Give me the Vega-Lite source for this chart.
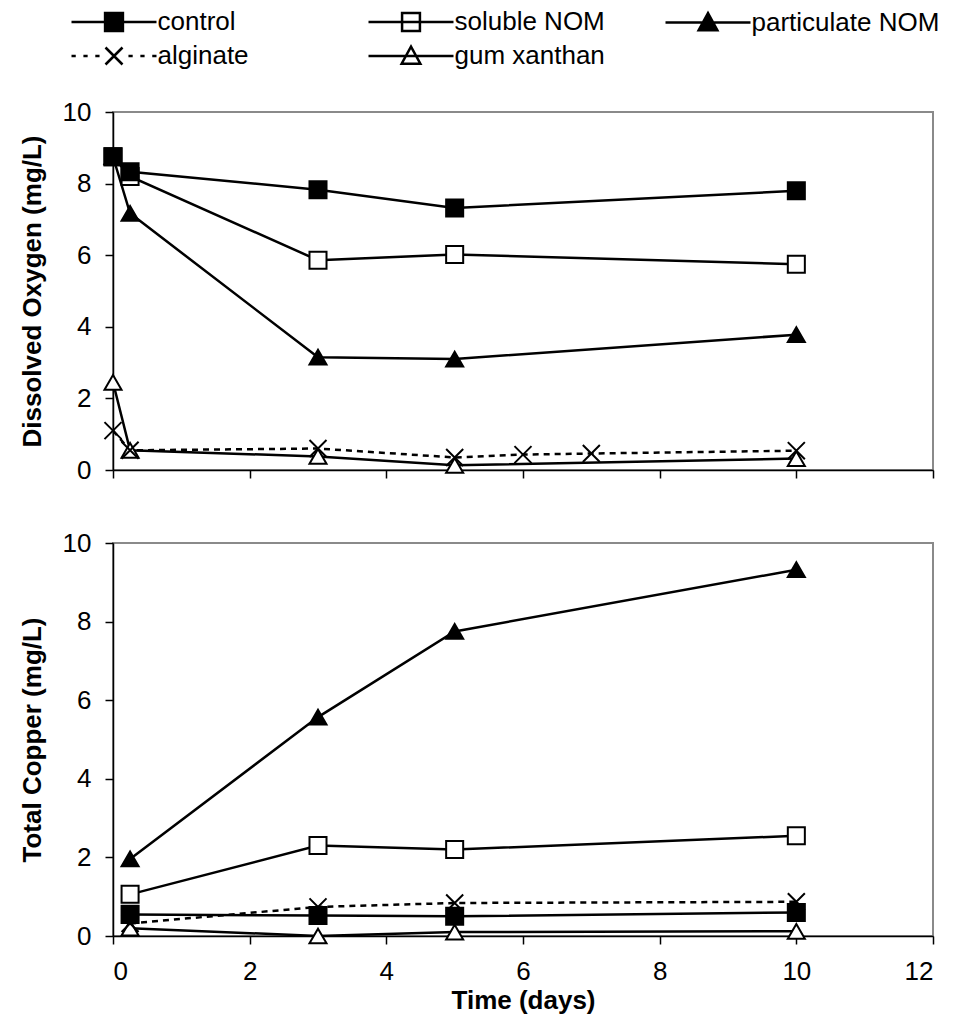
{
  "$schema": "https://vega.github.io/schema/vega-lite/v6.json",
  "background": "white",
  "padding": {"left": 18, "top": 9, "right": 5, "bottom": 4},
  "bounds": "flush",
  "spacing": 73,
  "config": {
    "font": "Liberation Sans",
    "view": {"stroke": "#8a8a8a", "strokeWidth": 2},
    "axis": {
      "grid": false,
      "domainColor": "black",
      "domainWidth": 1.5,
      "tickColor": "black",
      "tickWidth": 1.5,
      "tickSize": 8,
      "labelFont": "Liberation Sans",
      "labelFontSize": 26,
      "labelColor": "black",
      "labelPadding": 14,
      "titleFont": "Liberation Sans",
      "titleFontSize": 26,
      "titleFontWeight": "bold",
      "titleColor": "black",
      "zindex": 1
    },
    "legend": {
      "orient": "none", "legendX": -12, "legendY": -103, "columns": 3, "direction": "horizontal",
      "symbolSize": 289, "symbolOpacity": 1, "symbolStrokeWidth": 2.5, "symbolStrokeColor": "black",
      "labelOffset": 30.5, "labelFontSize": 26, "labelFont": "Liberation Sans", "labelColor": "black",
      "labelLimit": 400, "columnPadding": 17, "rowPadding": 5, "gridAlign": "all", "padding": 0
    }
  },
  "datasets": {
    "d": [
      {"panel": "DO", "series": "gum xanthan", "day": 0, "value": 2.45},
      {"panel": "DO", "series": "gum xanthan", "day": 0.25, "value": 0.55},
      {"panel": "DO", "series": "gum xanthan", "day": 3, "value": 0.38},
      {"panel": "DO", "series": "gum xanthan", "day": 5, "value": 0.13},
      {"panel": "DO", "series": "gum xanthan", "day": 10, "value": 0.32},
      {"panel": "DO", "series": "alginate", "day": 0, "value": 1.1},
      {"panel": "DO", "series": "alginate", "day": 0.25, "value": 0.55},
      {"panel": "DO", "series": "alginate", "day": 3, "value": 0.6},
      {"panel": "DO", "series": "alginate", "day": 5, "value": 0.35},
      {"panel": "DO", "series": "alginate", "day": 6, "value": 0.43},
      {"panel": "DO", "series": "alginate", "day": 7, "value": 0.46},
      {"panel": "DO", "series": "alginate", "day": 10, "value": 0.54},
      {"panel": "DO", "series": "particulate NOM", "day": 0, "value": 8.75},
      {"panel": "DO", "series": "particulate NOM", "day": 0.25, "value": 7.17},
      {"panel": "DO", "series": "particulate NOM", "day": 3, "value": 3.15},
      {"panel": "DO", "series": "particulate NOM", "day": 5, "value": 3.1},
      {"panel": "DO", "series": "particulate NOM", "day": 10, "value": 3.78},
      {"panel": "DO", "series": "soluble NOM", "day": 0, "value": 8.75},
      {"panel": "DO", "series": "soluble NOM", "day": 0.25, "value": 8.2},
      {"panel": "DO", "series": "soluble NOM", "day": 3, "value": 5.86},
      {"panel": "DO", "series": "soluble NOM", "day": 5, "value": 6.02},
      {"panel": "DO", "series": "soluble NOM", "day": 10, "value": 5.75},
      {"panel": "DO", "series": "control", "day": 0, "value": 8.75},
      {"panel": "DO", "series": "control", "day": 0.25, "value": 8.33},
      {"panel": "DO", "series": "control", "day": 3, "value": 7.83},
      {"panel": "DO", "series": "control", "day": 5, "value": 7.32},
      {"panel": "DO", "series": "control", "day": 10, "value": 7.8},
      {"panel": "Cu", "series": "gum xanthan", "day": 0.25, "value": 0.2},
      {"panel": "Cu", "series": "gum xanthan", "day": 3, "value": 0.0},
      {"panel": "Cu", "series": "gum xanthan", "day": 5, "value": 0.1},
      {"panel": "Cu", "series": "gum xanthan", "day": 10, "value": 0.12},
      {"panel": "Cu", "series": "alginate", "day": 0.25, "value": 0.32},
      {"panel": "Cu", "series": "alginate", "day": 3, "value": 0.74},
      {"panel": "Cu", "series": "alginate", "day": 5, "value": 0.84},
      {"panel": "Cu", "series": "alginate", "day": 10, "value": 0.87},
      {"panel": "Cu", "series": "particulate NOM", "day": 0.25, "value": 1.96},
      {"panel": "Cu", "series": "particulate NOM", "day": 3, "value": 5.57},
      {"panel": "Cu", "series": "particulate NOM", "day": 5, "value": 7.75},
      {"panel": "Cu", "series": "particulate NOM", "day": 10, "value": 9.32},
      {"panel": "Cu", "series": "soluble NOM", "day": 0.25, "value": 1.06},
      {"panel": "Cu", "series": "soluble NOM", "day": 3, "value": 2.3},
      {"panel": "Cu", "series": "soluble NOM", "day": 5, "value": 2.2},
      {"panel": "Cu", "series": "soluble NOM", "day": 10, "value": 2.55},
      {"panel": "Cu", "series": "control", "day": 0.25, "value": 0.55},
      {"panel": "Cu", "series": "control", "day": 3, "value": 0.52},
      {"panel": "Cu", "series": "control", "day": 5, "value": 0.5},
      {"panel": "Cu", "series": "control", "day": 10, "value": 0.6}
    ]
  },
  "vconcat": [
    {
      "width": 820,
      "height": 358,
      "data": {"name": "d"},
      "transform": [{"filter": "datum.panel === 'DO'"}],
      "encoding": {
        "x": {"field": "day", "type": "quantitative", "scale": {"domain": [0, 12], "nice": false}, "axis": {"values": [0, 2, 4, 6, 8, 10, 12], "labels": false, "title": null}},
        "y": {"field": "value", "type": "quantitative", "scale": {"domain": [0, 10], "nice": false}, "axis": {"values": [0, 2, 4, 6, 8, 10], "title": "Dissolved Oxygen (mg/L)", "titlePadding": 17}}
      },
      "layer": [
        {
          "mark": {"type": "point", "filled": true, "strokeWidth": 2.5, "opacity": 0},
          "encoding": {
            "shape": {"field": "series", "type": "nominal",
              "scale": {"domain": ["control", "soluble NOM", "particulate NOM", "alginate", "gum xanthan"],
                "range": ["M-5,0L5,0M-1.05,-1.05L1.05,-1.05L1.05,1.05L-1.05,1.05Z", "M-5,0L5,0M-1.05,-1.05L1.05,-1.05L1.05,1.05L-1.05,1.05Z", "M-5,0L5,0M0,-1.1L1.1,0.9L-1.1,0.9Z", "M-5,0L-4.5,0M-3.6,0L-3.1,0M-2.2,0L-1.7,0M1.7,0L2.2,0M3.1,0L3.6,0M4.5,0L5,0M-1,-1L1,1M-1,1L1,-1", "M-5,0L5,0M0,-1.1L1.1,0.9L-1.1,0.9Z"]},
              "legend": {"title": null, "orient": "none", "legendX": -12, "legendY": -103, "symbolOpacity": 1}},
            "fill": {"field": "series", "type": "nominal",
              "scale": {"domain": ["control", "soluble NOM", "particulate NOM", "alginate", "gum xanthan"], "range": ["black", "white", "black", "white", "white"]},
              "legend": {"title": null, "orient": "none", "legendX": -12, "legendY": -103, "symbolOpacity": 1}},
            "stroke": {"field": "series", "type": "nominal",
              "scale": {"domain": ["control", "soluble NOM", "particulate NOM", "alginate", "gum xanthan"], "range": ["black", "black", "black", "black", "black"]},
              "legend": {"title": null, "orient": "none", "legendX": -12, "legendY": -103, "symbolOpacity": 1}}
          }
        },
        {
          "transform": [{"filter": "datum.series !== 'alginate'"}],
          "mark": {"type": "line", "color": "black", "strokeWidth": 2.5},
          "encoding": {"detail": {"field": "series"}}
        },
        {
          "transform": [{"filter": "datum.series === 'alginate'"}],
          "mark": {"type": "line", "color": "black", "strokeWidth": 2.5, "strokeDash": [6, 5]},
          "encoding": {}
        },
        {
          "transform": [{"filter": "datum.series === 'gum xanthan'"}],
          "mark": {"type": "point", "shape": "triangle-up", "filled": true, "fill": "white", "stroke": "black", "strokeWidth": 2, "size": 290, "opacity": 1},
          "encoding": {}
        },
        {
          "transform": [{"filter": "datum.series === 'alginate'"}],
          "mark": {"type": "point", "shape": "M-1,-1L1,1M-1,1L1,-1", "filled": false, "stroke": "black", "strokeWidth": 2, "size": 290, "opacity": 1},
          "encoding": {}
        },
        {
          "transform": [{"filter": "datum.series === 'particulate NOM'"}],
          "mark": {"type": "point", "shape": "triangle-up", "filled": true, "fill": "black", "stroke": "black", "strokeWidth": 2, "size": 290, "opacity": 1},
          "encoding": {}
        },
        {
          "transform": [{"filter": "datum.series === 'soluble NOM'"}],
          "mark": {"type": "point", "shape": "square", "filled": true, "fill": "white", "stroke": "black", "strokeWidth": 2, "size": 290, "opacity": 1},
          "encoding": {}
        },
        {
          "transform": [{"filter": "datum.series === 'control'"}],
          "mark": {"type": "point", "shape": "square", "filled": true, "fill": "black", "stroke": "black", "strokeWidth": 2, "size": 290, "opacity": 1},
          "encoding": {}
        }
      ]
    },
    {
      "width": 820,
      "height": 393,
      "data": {"name": "d"},
      "transform": [{"filter": "datum.panel === 'Cu'"}],
      "encoding": {
        "x": {"field": "day", "type": "quantitative", "scale": {"domain": [0, 12], "nice": false}, "axis": {"values": [0, 2, 4, 6, 8, 10, 12], "title": "Time (days)", "titlePadding": 3}},
        "y": {"field": "value", "type": "quantitative", "scale": {"domain": [0, 10], "nice": false}, "axis": {"values": [0, 2, 4, 6, 8, 10], "title": "Total Copper (mg/L)", "titlePadding": 17}}
      },
      "layer": [
        {
          "transform": [{"filter": "datum.series !== 'alginate'"}],
          "mark": {"type": "line", "color": "black", "strokeWidth": 2.5},
          "encoding": {"detail": {"field": "series"}}
        },
        {
          "transform": [{"filter": "datum.series === 'alginate'"}],
          "mark": {"type": "line", "color": "black", "strokeWidth": 2.5, "strokeDash": [6, 5]},
          "encoding": {}
        },
        {
          "transform": [{"filter": "datum.series === 'gum xanthan'"}],
          "mark": {"type": "point", "shape": "triangle-up", "filled": true, "fill": "white", "stroke": "black", "strokeWidth": 2, "size": 290, "opacity": 1},
          "encoding": {}
        },
        {
          "transform": [{"filter": "datum.series === 'alginate'"}],
          "mark": {"type": "point", "shape": "M-1,-1L1,1M-1,1L1,-1", "filled": false, "stroke": "black", "strokeWidth": 2, "size": 290, "opacity": 1},
          "encoding": {}
        },
        {
          "transform": [{"filter": "datum.series === 'particulate NOM'"}],
          "mark": {"type": "point", "shape": "triangle-up", "filled": true, "fill": "black", "stroke": "black", "strokeWidth": 2, "size": 290, "opacity": 1},
          "encoding": {}
        },
        {
          "transform": [{"filter": "datum.series === 'soluble NOM'"}],
          "mark": {"type": "point", "shape": "square", "filled": true, "fill": "white", "stroke": "black", "strokeWidth": 2, "size": 290, "opacity": 1},
          "encoding": {}
        },
        {
          "transform": [{"filter": "datum.series === 'control'"}],
          "mark": {"type": "point", "shape": "square", "filled": true, "fill": "black", "stroke": "black", "strokeWidth": 2, "size": 290, "opacity": 1},
          "encoding": {}
        }
      ]
    }
  ]
}
